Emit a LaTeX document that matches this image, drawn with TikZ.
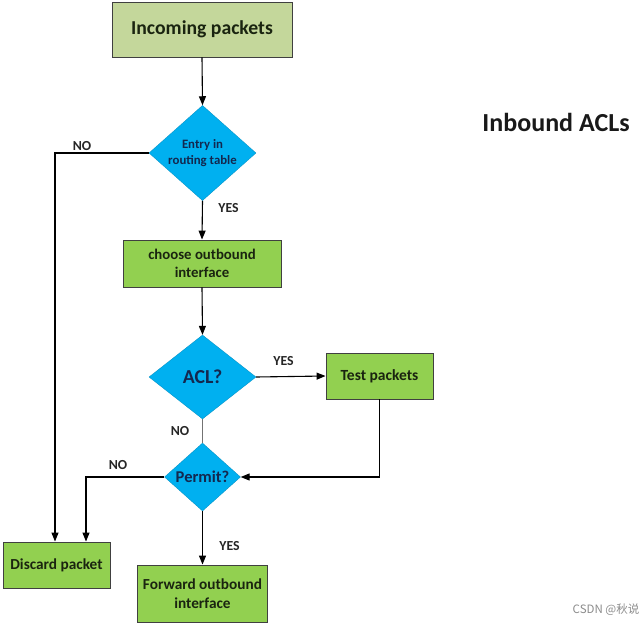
\documentclass[tikz,border=0pt]{standalone}
\usepackage{fontspec}
\setmainfont{Carlito}
\newfontfamily\cjkfont{Noto Sans CJK SC}
\usetikzlibrary{shapes.geometric,arrows.meta}
\definecolor{olivebox}{HTML}{C4D79B}
\definecolor{greenbox}{HTML}{92D050}
\definecolor{bluedia}{HTML}{00B0F0}
\definecolor{boxtext}{HTML}{1A2410}
\definecolor{diatext}{HTML}{13284F}
\tikzset{
  box/.style={draw=black!75, line width=0.9pt, inner sep=0pt, align=center, text=boxtext, font=\bfseries},
  olive/.style={box, fill=olivebox},
  grn/.style={box, fill=greenbox},
  dia/.style={diamond, draw=bluedia!80!black, line width=0.3pt, fill=bluedia, inner sep=0pt, align=center, text=diatext, font=\bfseries},
  arr/.style={draw=black, line width=1.1pt, -{Triangle[length=9pt,width=7pt]}},
  ln/.style={draw=black, line width=1.1pt},
  lbl/.style={font=\bfseries\fontsize{13.8}{16}\selectfont, text=black!85, inner sep=0pt}
}
\begin{document}
\begin{tikzpicture}[x=1pt,y=-1pt]
\useasboundingbox (0,0) rectangle (644,623);
\fill[white] (0,0) rectangle (644,623);
% nodes
\node[olive, minimum width=180pt, minimum height=55pt, font=\bfseries\fontsize{19.7}{22}\selectfont] (inc) at (202,29.5) {Incoming packets};
\node[dia, minimum width=107pt, minimum height=86pt, font=\bfseries\fontsize{12.8}{15.5}\selectfont] (d1) at (202.5,153) {Entry in\\routing table};
\node[grn, minimum width=158pt, minimum height=47pt, font=\bfseries\fontsize{14.8}{18}\selectfont] (ch) at (202,263.5) {choose outbound\\interface};
\node[dia, minimum width=107pt, minimum height=84pt, font=\bfseries\fontsize{19.8}{22}\selectfont] (acl) at (202.5,377) {ACL?};
\node[grn, minimum width=107pt, minimum height=46pt, font=\bfseries\fontsize{15.5}{18}\selectfont] (test) at (379.5,376) {Test packets};
\node[dia, minimum width=76pt, minimum height=68pt, font=\bfseries\fontsize{16.5}{19}\selectfont] (perm) at (202.5,477) {Permit?};
\node[grn, minimum width=107pt, minimum height=46pt, font=\bfseries\fontsize{15.3}{18}\selectfont] (disc) at (56.5,565) {Discard packet};
\node[grn, minimum width=130pt, minimum height=57pt, font=\bfseries\fontsize{15.3}{19}\selectfont] (fwd) at (202.5,593.5) {Forward outbound\\interface};
\node[font=\bfseries\fontsize{26}{30}\selectfont, text=black!90, inner sep=0pt] (title) at (556,122) {Inbound ACLs};
\node[font=\cjkfont\fontsize{11.5}{13}\selectfont, text=black!45, inner sep=0pt] (wm) at (606,610) {CSDN @秋说};
% labels
\node[lbl] (l1) at (82,146) {NO};
\node[lbl] (l2) at (228.5,208.5) {YES};
\node[lbl] (l3) at (283.5,361) {YES};
\node[lbl] (l4) at (180,431) {NO};
\node[lbl] (l5) at (118,465) {NO};
\node[lbl] (l6) at (229.5,546) {YES};
% connectors
\draw[arr] (inc.south) -- (d1.north);
\draw[arr] (d1.south) -- (ch.north);
\draw[arr] (d1.west) -| ([xshift=-1.5pt]disc.north);
\draw[arr] (ch.south) -- (acl.north);
\draw[arr] (acl.east) -- (test.west);
\draw[draw=black!55, line width=1.1pt] (acl.south) -- (perm.north);
\draw[arr] (test.south) |- (perm.east);
\draw[arr] (perm.west) -| ([xshift=29.5pt]disc.north);
\draw[arr] (perm.south) -- (fwd.north);
\end{tikzpicture}
\end{document}
